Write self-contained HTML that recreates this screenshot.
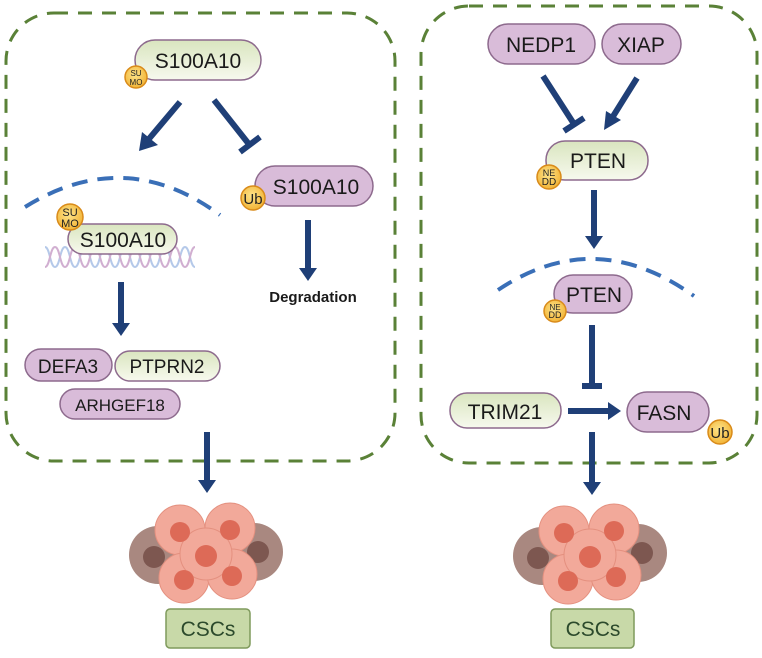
<!DOCTYPE html>
<html><head><meta charset="utf-8"><style>
html,body{margin:0;padding:0;background:#fff;}
svg{display:block;}
text{font-family:"Liberation Sans",Arial,sans-serif;}
</style></head><body>
<svg width="762" height="658" viewBox="0 0 762 658" xmlns="http://www.w3.org/2000/svg">
<defs>
<linearGradient id="g" x1="0" y1="0" x2="0" y2="1"><stop offset="0" stop-color="#d9e5bf"/><stop offset="1" stop-color="#f7f9ee"/></linearGradient>
<radialGradient id="o" cx="0.45" cy="0.4" r="0.6"><stop offset="0" stop-color="#fde48a"/><stop offset="1" stop-color="#f2b437"/></radialGradient>
<g id="cells">
<circle cx="-48" cy="3" r="29" fill="#a98880"/><circle cx="-52" cy="5" r="11" fill="#7d5750"/>
<circle cx="48" cy="0" r="29" fill="#a98880"/><circle cx="52" cy="0" r="11" fill="#7d5750"/>
<g fill="#f2a99a" stroke="#e4907f" stroke-width="1">
<circle cx="-26" cy="-22" r="25"/><circle cx="24" cy="-24" r="25"/>
<circle cx="-22" cy="26" r="25"/><circle cx="26" cy="22" r="25"/><circle cx="0" cy="2" r="26"/></g>
<g fill="#dd6a57"><circle cx="-26" cy="-20" r="10"/><circle cx="24" cy="-22" r="10"/><circle cx="-22" cy="28" r="10"/><circle cx="26" cy="24" r="10"/><circle cx="0" cy="4" r="11"/></g>
</g>
</defs>
<g fill="none" stroke="#5a8137" stroke-width="3" stroke-dasharray="14,10">
<rect x="6" y="13" width="389" height="448" rx="48"/>
<rect x="421" y="6" width="336" height="457" rx="48"/>
</g>
<g fill="none" stroke="#3a6fb7" stroke-width="4" stroke-dasharray="16,10">
<path d="M25,207 Q125,145 220,215"/>
<path d="M498,290 Q595,225 694,296"/>
</g>
<!-- DNA -->
<g fill="none" stroke-width="2" opacity="0.85">
<path d="M45,247 C50,247 50,267 55,267 S60,247 65,247 S70,267 75,267 S80,247 85,247 S90,267 95,267 S100,247 105,247 S110,267 115,267 S120,247 125,247 S130,267 135,267 S140,247 145,247 S150,267 155,267 S160,247 165,247 S170,267 175,267 S180,247 185,247 S190,267 195,267" stroke="#a9c0e6"/>
<path d="M45,267 C50,267 50,247 55,247 S60,267 65,267 S70,247 75,247 S80,267 85,267 S90,247 95,247 S100,267 105,267 S110,247 115,247 S120,267 125,267 S130,247 135,247 S140,267 145,267 S150,247 155,247 S160,267 165,267 S170,247 175,247 S180,267 185,267 S190,247 195,247" stroke="#c9a2c9"/>
</g>
<g stroke="#1f3f77" stroke-width="6" fill="#1f3f77">
<line x1="180" y1="102" x2="148" y2="140"/><polygon points="139,151 142,132 158,145" stroke="none"/>
<line x1="214" y1="100" x2="248" y2="143"/><line x1="240" y1="152" x2="260" y2="137"/>
<line x1="308" y1="220" x2="308" y2="270"/><polygon points="299,268 317,268 308,281" stroke="none"/>
<line x1="121" y1="282" x2="121" y2="325"/><polygon points="112,323 130,323 121,336" stroke="none"/>
<line x1="207" y1="432" x2="207" y2="482"/><polygon points="198,480 216,480 207,493" stroke="none"/>
<line x1="543" y1="76" x2="574" y2="124"/><line x1="564" y1="131" x2="584" y2="118"/>
<line x1="637" y1="78" x2="612" y2="118"/><polygon points="604,130 606,111 621,120" stroke="none"/>
<line x1="594" y1="190" x2="594" y2="238"/><polygon points="585,236 603,236 594,249" stroke="none"/>
<line x1="592" y1="325" x2="592" y2="385"/><line x1="582" y1="386" x2="602" y2="386"/>
<line x1="568" y1="411" x2="610" y2="411"/><polygon points="608,402 608,420 621,411" stroke="none"/>
<line x1="592" y1="432" x2="592" y2="484"/><polygon points="583,482 601,482 592,495" stroke="none"/>
</g>
<g stroke="#8d6a8d" stroke-width="1.5" font-size="21" text-anchor="middle">
<rect x="135" y="40" width="126" height="40" rx="20" fill="url(#g)"/>
<rect x="255" y="166" width="118" height="40" rx="20" fill="#d9bcd9"/>
<rect x="68" y="224" width="109" height="30" rx="15" fill="url(#g)"/>
<rect x="25" y="349" width="87" height="32" rx="16" fill="#d9bcd9"/>
<rect x="115" y="351" width="105" height="30" rx="15" fill="url(#g)"/>
<rect x="60" y="389" width="120" height="30" rx="15" fill="#d9bcd9"/>
<rect x="488" y="24" width="107" height="40" rx="20" fill="#d9bcd9"/>
<rect x="602" y="24" width="79" height="40" rx="20" fill="#d9bcd9"/>
<rect x="546" y="141" width="102" height="39" rx="19" fill="url(#g)"/>
<rect x="554" y="275" width="78" height="38" rx="19" fill="#d9bcd9"/>
<rect x="450" y="393" width="111" height="35" rx="17" fill="url(#g)"/>
<rect x="627" y="392" width="82" height="40" rx="20" fill="#d9bcd9"/>
<rect x="166" y="609" width="84" height="39" rx="4" fill="#c8d9a8" stroke="#7f9a5c"/>
<rect x="551" y="609" width="83" height="39" rx="4" fill="#c8d9a8" stroke="#7f9a5c"/>
</g>
<g font-size="21" text-anchor="middle" fill="#1a1a1a">
<text x="198" y="68">S100A10</text>
<text x="316" y="194">S100A10</text>
<text x="123" y="247">S100A10</text>
<text x="68" y="373" font-size="19">DEFA3</text>
<text x="167" y="373" font-size="19">PTPRN2</text>
<text x="120" y="411" font-size="17">ARHGEF18</text>
<text x="541" y="52">NEDP1</text>
<text x="641" y="52">XIAP</text>
<text x="598" y="168">PTEN</text>
<text x="594" y="302">PTEN</text>
<text x="505" y="419">TRIM21</text>
<text x="664" y="420">FASN</text>
<text x="208" y="636" fill="#2c4a2c">CSCs</text>
<text x="593" y="636" fill="#2c4a2c">CSCs</text>
<text x="313" y="302" font-size="15" font-weight="bold">Degradation</text>
</g>
<g stroke="#d98b1a" stroke-width="1.5" fill="url(#o)">
<circle cx="136" cy="77" r="11"/><circle cx="70" cy="217" r="13"/><circle cx="253" cy="198" r="12"/>
<circle cx="549" cy="177" r="12"/><circle cx="555" cy="311" r="11"/><circle cx="720" cy="432" r="12"/>
</g>
<g text-anchor="middle" fill="#222">
<text x="136" y="76" font-size="8">SU</text><text x="136" y="85" font-size="8">MO</text>
<text x="70" y="216" font-size="11">SU</text><text x="70" y="227" font-size="11">MO</text>
<text x="253" y="204" font-size="15">Ub</text>
<text x="549" y="176" font-size="9">NE</text><text x="549" y="185" font-size="10">DD</text>
<text x="555" y="310" font-size="8">NE</text><text x="555" y="318" font-size="9">DD</text>
<text x="720" y="438" font-size="15">Ub</text>
</g>
<use href="#cells" x="206" y="552"/>
<use href="#cells" x="590" y="553"/>
</svg>
</body></html>
